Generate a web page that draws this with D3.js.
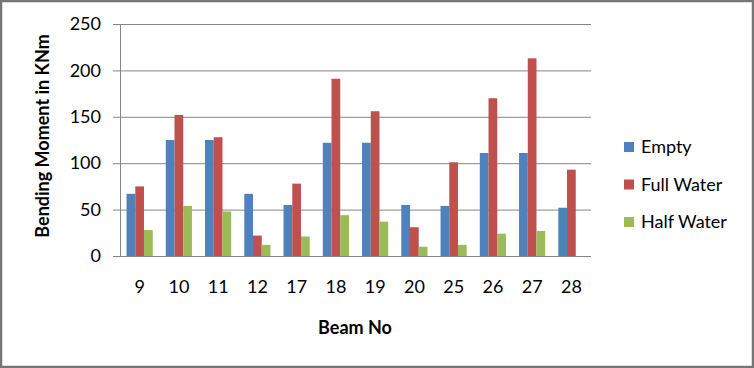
<!DOCTYPE html>
<html><head><meta charset="utf-8">
<script src="https://cdn.jsdelivr.net/npm/d3@7/dist/d3.min.js"></script>
<style>body{margin:0;background:#fff}svg{display:block}</style>
</head><body><svg id="c" width="754" height="368"></svg>
<script>
const categories = ["9","10","11","12","17","18","19","20","25","26","27","28"];
const seriesNames = ["Empty","Full Water","Half Water"];
const emptyVals = [67,125,125,67,55,122,122,55,54,111,111,52];
const fullVals  = [75,152,128,22,78,191,156,31,101,170,213,93];
const halfVals  = [28,54,48,12,21,44,37,10,12,24,27,0];
const yTicks = [0,50,100,150,200,250];
const colors = ["#4F81BD","#C0504D","#9BBB59"];

const svg = d3.select("#c");
const font = "Lato, 'Open Sans', sans-serif";
svg.append("rect").attr("x",1).attr("y",1).attr("width",752).attr("height",366)
  .attr("fill","#fff").attr("stroke","#767676").attr("stroke-width",2.5);

const L=120, R=591, T=24, B=256;
const x = d3.scaleBand().domain(categories).range([L,R]).paddingInner(0).paddingOuter(0);
const y = d3.scaleLinear().domain([0,250]).range([B,T]);
const x1 = d3.scaleBand().domain(seriesNames).range([0,x.bandwidth()]).paddingInner(0).paddingOuter(0.75);

// gridlines
svg.append("g").selectAll("line").data(yTicks).join("line")
  .attr("x1",L-7).attr("x2",R).attr("y1",d=>y(d)+0.5).attr("y2",d=>y(d)+0.5)
  .attr("stroke","#868686").attr("stroke-width",1);

const data = [emptyVals, fullVals, halfVals];
seriesNames.forEach((s,i)=>{
  svg.append("g").selectAll("rect").data(categories).join("rect")
    .attr("x",c=>x(c)+x1(s)).attr("width",x1.bandwidth())
    .attr("y",(c,j)=>y(data[i][j])).attr("height",(c,j)=>B-y(data[i][j]))
    .attr("fill",colors[i]);
});

// axes
svg.append("line").attr("x1",L+0.5).attr("x2",L+0.5).attr("y1",T).attr("y2",B)
  .attr("stroke","#868686");
svg.append("line").attr("x1",L-7).attr("x2",R).attr("y1",B+0.5).attr("y2",B+0.5)
  .attr("stroke","#868686");

const yAxis = d3.axisLeft(y).tickValues(yTicks).tickSize(0).tickPadding(12);
const gy = svg.append("g").attr("transform",`translate(${L-7},0)`).call(yAxis);
gy.select(".domain").remove();
gy.selectAll("text").attr("font-family",font).attr("font-size",18).attr("fill","#000");

const xAxis = d3.axisBottom(x).tickSize(0).tickPadding(24);
const gx = svg.append("g").attr("transform",`translate(0,${B})`).call(xAxis);
gx.select(".domain").remove();
gx.selectAll("text").attr("font-family",font).attr("font-size",18).attr("fill","#000");

svg.append("text").attr("transform","translate(49,136) rotate(-90)")
  .attr("text-anchor","middle").attr("font-family",font).attr("font-weight","bold")
  .attr("font-size",18).text("Bending Moment in KNm");
svg.append("text").attr("x",355).attr("y",334)
  .attr("text-anchor","middle").attr("font-family",font).attr("font-weight","bold")
  .attr("font-size",18).text("Beam No");

const lg = svg.append("g");
seriesNames.forEach((s,i)=>{
  const cy = 147 + i*37.5;
  lg.append("rect").attr("x",624).attr("y",cy-5).attr("width",10).attr("height",10).attr("fill",colors[i]);
  lg.append("text").attr("x",641).attr("y",cy+6).attr("font-family",font).attr("font-size",18).text(s);
});
</script></body></html>
